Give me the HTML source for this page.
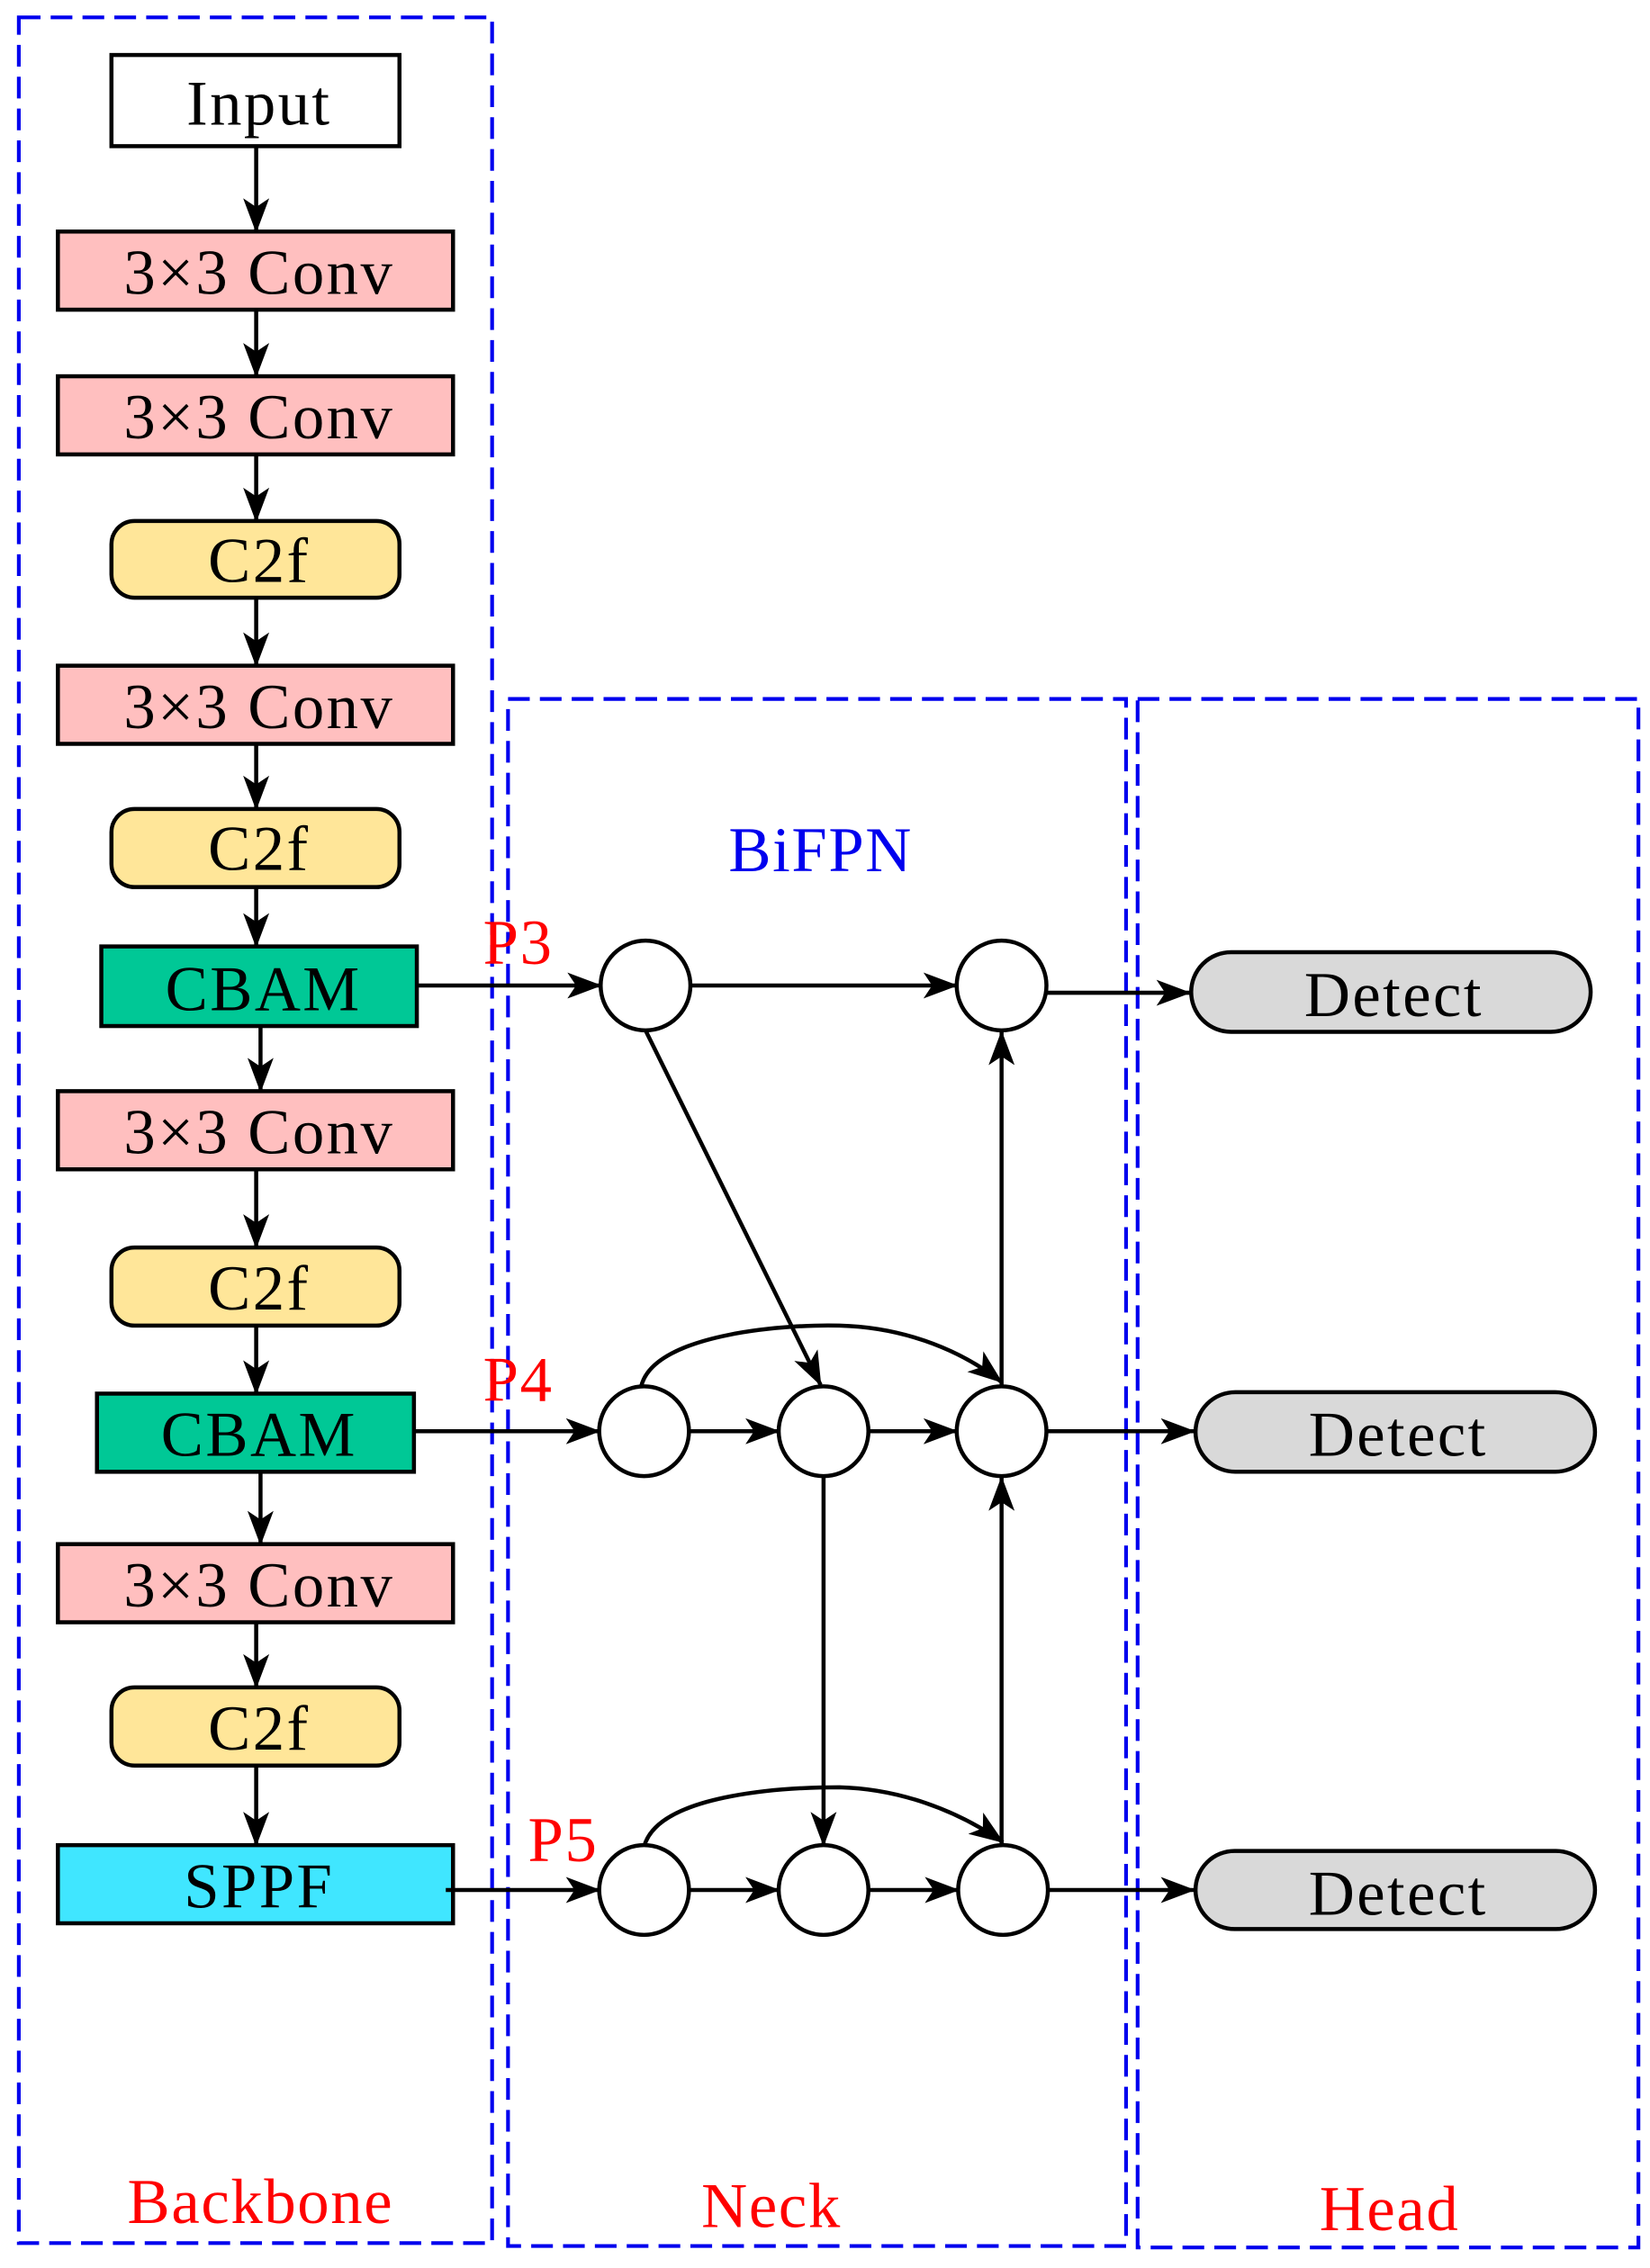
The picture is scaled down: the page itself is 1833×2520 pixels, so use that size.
<!DOCTYPE html>
<html><head><meta charset="utf-8"><style>html,body{margin:0;padding:0;background:#fff}svg{display:block}</style></head>
<body>
<svg width="1833" height="2520" viewBox="0 0 1140 1567.2" preserveAspectRatio="none" xmlns="http://www.w3.org/2000/svg">
<defs>
<marker id="a" viewBox="0 0 24 18" refX="23" refY="9" markerWidth="24" markerHeight="18" markerUnits="userSpaceOnUse" orient="auto">
<path d="M0,0 L24,9 L0,18 L6,9 Z" fill="#000"/>
</marker>
</defs>
<g fill="none" stroke="#0000EE" stroke-width="2.6" stroke-dasharray="15,7">
<rect x="13" y="12" width="327" height="1538"/>
<rect x="351" y="483" width="427" height="1069"/>
<rect x="786" y="483" width="346" height="1070"/>
</g>
<g stroke="#000" stroke-width="2.8">
<rect x="77" y="38" width="199" height="63" fill="#fff"/>
<rect x="40" y="160" width="273" height="54" fill="#FFBFBF"/>
<rect x="40" y="260" width="273" height="54" fill="#FFBFBF"/>
<rect x="77" y="360" width="199" height="53" rx="16" fill="#FFE699"/>
<rect x="40" y="460" width="273" height="54" fill="#FFBFBF"/>
<rect x="77" y="559" width="199" height="54" rx="16" fill="#FFE699"/>
<rect x="70" y="654" width="218" height="55" fill="#00C896"/>
<rect x="40" y="754" width="273" height="54" fill="#FFBFBF"/>
<rect x="77" y="862" width="199" height="54" rx="16" fill="#FFE699"/>
<rect x="67" y="963" width="219" height="54" fill="#00C896"/>
<rect x="40" y="1067" width="273" height="54" fill="#FFBFBF"/>
<rect x="77" y="1166" width="199" height="54" rx="16" fill="#FFE699"/>
<rect x="40" y="1275" width="273" height="54" fill="#40E6FF"/>
<rect x="823" y="658" width="276" height="55" rx="27.5" fill="#D9D9D9"/>
<rect x="826" y="962" width="276" height="55" rx="27.5" fill="#D9D9D9"/>
<rect x="826" y="1279" width="276" height="54" rx="27" fill="#D9D9D9"/>
<g fill="#fff">
<circle cx="446" cy="681" r="31"/><circle cx="692" cy="681" r="31"/>
<circle cx="445" cy="989" r="31"/><circle cx="569" cy="989" r="31"/><circle cx="692" cy="989" r="31"/>
<circle cx="445" cy="1306" r="31"/><circle cx="569" cy="1306" r="31"/><circle cx="693" cy="1306" r="31"/>
</g>
<g fill="none" marker-end="url(#a)">
<line x1="177" y1="101" x2="177" y2="160"/>
<line x1="177" y1="214" x2="177" y2="260"/>
<line x1="177" y1="314" x2="177" y2="360"/>
<line x1="177" y1="413" x2="177" y2="460"/>
<line x1="177" y1="514" x2="177" y2="559"/>
<line x1="177" y1="613" x2="177" y2="654"/>
<line x1="180" y1="709" x2="180" y2="754"/>
<line x1="177" y1="808" x2="177" y2="862"/>
<line x1="177" y1="916" x2="177" y2="963"/>
<line x1="180" y1="1017" x2="180" y2="1067"/>
<line x1="177" y1="1121" x2="177" y2="1166"/>
<line x1="177" y1="1220" x2="177" y2="1275"/>
<line x1="288" y1="681" x2="415" y2="681"/>
<line x1="477" y1="681" x2="661" y2="681"/>
<line x1="723" y1="686" x2="822" y2="686"/>
<line x1="446" y1="712" x2="567" y2="957"/>
<line x1="286" y1="989" x2="414" y2="989"/>
<line x1="476" y1="989" x2="538" y2="989"/>
<line x1="600" y1="989" x2="661" y2="989"/>
<line x1="723" y1="989" x2="825" y2="989"/>
<path d="M443,958 C452,920 550,915 580,916 C620,917 660,930 692,955"/>
<line x1="692" y1="958" x2="692" y2="713"/>
<line x1="569" y1="1020" x2="569" y2="1275"/>
<line x1="692" y1="1275" x2="692" y2="1021"/>
<line x1="308" y1="1306" x2="414" y2="1306"/>
<line x1="476" y1="1306" x2="538" y2="1306"/>
<line x1="600" y1="1306" x2="662" y2="1306"/>
<line x1="724" y1="1306" x2="825" y2="1306"/>
<path d="M445,1276 C455,1238 550,1235 580,1235 C620,1236 660,1250 693,1273"/>
</g>
</g>
<g font-family="Liberation Serif, serif" font-size="44" letter-spacing="1.5" text-anchor="middle" fill="#000">
<text x="179" y="86">Input</text>
<text x="179" y="203">3×3 Conv</text>
<text x="179" y="303">3×3 Conv</text>
<text x="179" y="402">C2f</text>
<text x="179" y="503">3×3 Conv</text>
<text x="179" y="601">C2f</text>
<text x="182" y="698">CBAM</text>
<text x="179" y="797">3×3 Conv</text>
<text x="179" y="905">C2f</text>
<text x="179" y="1006">CBAM</text>
<text x="179" y="1110">3×3 Conv</text>
<text x="179" y="1209">C2f</text>
<text x="179" y="1318">SPPF</text>
<text x="963" y="702">Detect</text>
<text x="966" y="1006">Detect</text>
<text x="966" y="1323">Detect</text>
</g>
<g font-family="Liberation Serif, serif" font-size="44" letter-spacing="1" text-anchor="middle">
<text x="567" y="602" fill="#0000EE">BiFPN</text>
<g fill="#FF0000">
<text x="358" y="666">P3</text>
<text x="358" y="968">P4</text>
<text x="389" y="1286">P5</text>
<text x="180" y="1536">Backbone</text>
<text x="533" y="1539">Neck</text>
<text x="960" y="1541">Head</text>
</g>
</g>
</svg>
</body></html>
